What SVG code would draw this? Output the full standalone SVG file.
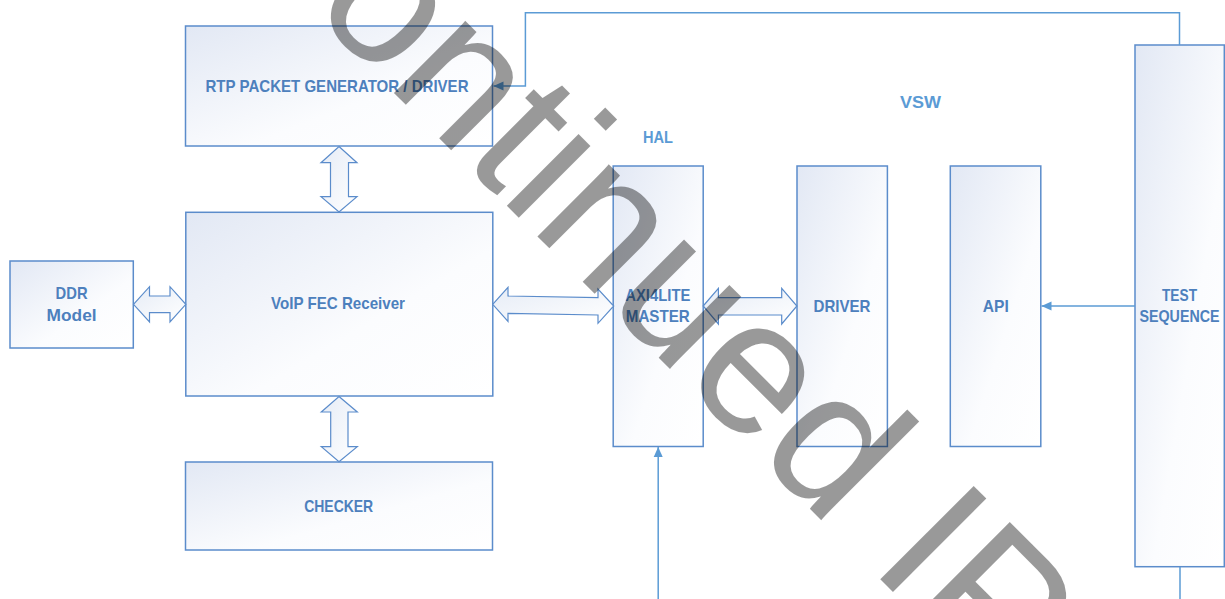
<svg xmlns="http://www.w3.org/2000/svg" width="1225" height="599" viewBox="0 0 1225 599">
<style>
.box{stroke:#5b8ccb;stroke-width:1.5;fill:url(#g)}
.dar{stroke:#5b8ccb;stroke-width:1.2;fill:url(#g2)}
.lbl{font-family:"Liberation Sans",Arial,sans-serif;font-weight:bold;font-size:17px;fill:#4d80bd;text-anchor:middle}
.hdr{font-family:"Liberation Sans",Arial,sans-serif;font-weight:bold;font-size:17px;fill:#5b9bd5;text-anchor:middle}
.con{stroke:#5b9bd5;stroke-width:1.5;fill:none}
.wm{font-family:"Liberation Sans",Arial,sans-serif;font-size:192px;fill:#000;fill-opacity:0.4}
</style>
<defs>
<linearGradient id="g" x1="0" y1="0" x2="1" y2="1">
<stop offset="0" stop-color="#e2e8f4"/>
<stop offset="0.6" stop-color="#fbfcfe"/>
<stop offset="1" stop-color="#ffffff"/>
</linearGradient>
<linearGradient id="g2" x1="0" y1="0" x2="1" y2="1">
<stop offset="0" stop-color="#e6ecf6"/>
<stop offset="1" stop-color="#ffffff"/>
</linearGradient>
<marker id="ah" viewBox="0 0 10 10" refX="10" refY="5" markerWidth="10" markerHeight="10" markerUnits="userSpaceOnUse" orient="auto">
<path d="M0,0.5 L10,5 L0,9.5 z" fill="#5b9bd5"/>
</marker>
</defs>
<rect width="1225" height="599" fill="#ffffff"/>

<g id="rtp">
<rect class="box" x="185.5" y="26" width="307" height="120"/>
<text class="lbl" x="337" y="91.7" textLength="263" lengthAdjust="spacingAndGlyphs">RTP PACKET GENERATOR / DRIVER</text>
</g>
<g id="voip">
<rect class="box" x="185.8" y="212.3" width="307" height="183.7"/>
<text class="lbl" x="338" y="309.3" textLength="134" lengthAdjust="spacingAndGlyphs">VoIP FEC Receiver</text>
</g>
<g id="ddr">
<rect class="box" x="10" y="261" width="123.3" height="87"/>
<text class="lbl" x="71.6" y="299" textLength="32" lengthAdjust="spacingAndGlyphs">DDR</text>
<text class="lbl" x="71.6" y="320.7" textLength="50" lengthAdjust="spacingAndGlyphs">Model</text>
</g>
<g id="checker">
<rect class="box" x="185.5" y="462" width="307" height="88"/>
<text class="lbl" x="338.7" y="511.7" textLength="69" lengthAdjust="spacingAndGlyphs">CHECKER</text>
</g>
<g id="hal-label">
<text class="hdr" x="658" y="142.7" textLength="30" lengthAdjust="spacingAndGlyphs">HAL</text>
</g>
<g id="vsw-label">
<text class="hdr" x="920.5" y="108.3" textLength="41" lengthAdjust="spacingAndGlyphs">VSW</text>
</g>
<g id="axi">
<rect class="box" x="613.2" y="166" width="90" height="280.5"/>
<text class="lbl" x="657.8" y="300.7" textLength="65" lengthAdjust="spacingAndGlyphs">AXI4LITE</text>
<text class="lbl" x="657.8" y="322.3" textLength="64" lengthAdjust="spacingAndGlyphs">MASTER</text>
</g>
<g id="driver">
<rect class="box" x="797" y="166" width="90.4" height="280.5"/>
<text class="lbl" x="842" y="311.7" textLength="57" lengthAdjust="spacingAndGlyphs">DRIVER</text>
</g>
<g id="api">
<rect class="box" x="950.3" y="166" width="90.5" height="280.5"/>
<text class="lbl" x="995.8" y="311.7" textLength="26" lengthAdjust="spacingAndGlyphs">API</text>
</g>
<g id="test">
<rect class="box" x="1135" y="45" width="89.3" height="521.7"/>
<text class="lbl" x="1179.5" y="300.7" textLength="35" lengthAdjust="spacingAndGlyphs">TEST</text>
<text class="lbl" x="1179.5" y="322.3" textLength="80" lengthAdjust="spacingAndGlyphs">SEQUENCE</text>
</g>

<g id="connectors">
<polygon class="dar" points="339,146.5 357,162.7 348.5,162.7 348.5,196.7 357,196.7 339,212 321,196.7 330.5,196.7 330.5,162.7 321,162.7"/>
<polygon class="dar" points="339,396.5 357.3,412 348,412 348,446.7 357.3,446.7 339,461.7 321.3,446.7 330.7,446.7 330.7,412 321.3,412"/>
<polygon class="dar" points="133.5,304.3 149.5,286.7 149.5,296 170,296 170,286.7 185.8,304.3 170,322 170,312.7 149.5,312.7 149.5,322"/>
<polygon class="dar" points="492.7,304.3 508,287.3 508,296 598,297.7 598,289 613.7,306 598,323.3 598,315 508,313.3 508,321.5"/>
<polygon class="dar" points="703.2,306 718.4,288.3 718.4,297.7 781.7,297.7 781.7,288.3 796.9,306 781.7,324 781.7,315 718.4,315 718.4,324"/>
<polyline class="con" points="1179.5,45 1179.5,12.7 525.4,12.7 525.4,86 493.5,86" marker-end="url(#ah)"/>
<line class="con" x1="1135" y1="306" x2="1041.5" y2="306" marker-end="url(#ah)"/>
<line class="con" x1="658.2" y1="599" x2="658.2" y2="447" marker-end="url(#ah)"/>
<line class="con" x1="1180" y1="567" x2="1180" y2="599"/>
</g>

<g id="watermark">
<text class="wm" transform="translate(309,8) rotate(45)">ontinued IP</text>
</g>
</svg>
